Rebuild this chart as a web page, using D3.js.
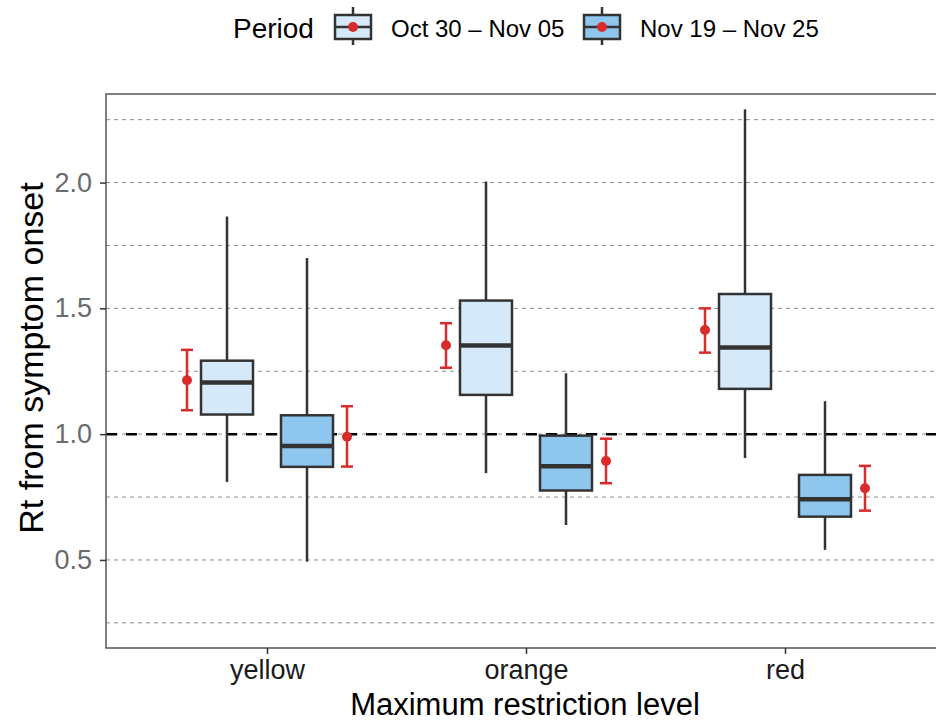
<!DOCTYPE html>
<html>
<head>
<meta charset="utf-8">
<script src="https://cdn.jsdelivr.net/npm/d3@7"></script>
<style>
  body { margin: 0; background: #fff; }
  svg { display: block; font-family: "Liberation Sans", Arial, sans-serif; }
</style>
</head>
<body>
<div id="chart"></div>
<script>
// ==== Data ====
const levels = ["yellow", "orange", "red"];
const periods = ["Oct 30 – Nov 05", "Nov 19 – Nov 25"];

// box stats per period, one value per level
const whiskerLow  = [[0.81, 0.845, 0.905], [0.493, 0.639, 0.540]];
const q1          = [[1.078, 1.156, 1.180], [0.870, 0.776, 0.672]];
const median      = [[1.205, 1.352, 1.344], [0.953, 0.872, 0.741]];
const q3          = [[1.292, 1.531, 1.557], [1.075, 0.994, 0.838]];
const whiskerHigh = [[1.865, 2.004, 2.291], [1.700, 1.242, 1.131]];

// point estimate with interval
const estimate = [[1.214, 1.353, 1.414], [0.990, 0.893, 0.785]];
const ciLow    = [[1.095, 1.264, 1.324], [0.871, 0.805, 0.696]];
const ciHigh   = [[1.335, 1.441, 1.500], [1.111, 0.982, 0.874]];

const yTicks = [0.5, 1.0, 1.5, 2.0];
const yGrid = [0.25, 0.5, 0.75, 1.0, 1.25, 1.5, 1.75, 2.0, 2.25];

const fills = ["#d5e9f8", "#8ec6ee"];
const ink = "#333333";
const red = "#d92b2b";

// ==== Layout ====
const W = 936, H = 723;
const panel = { left: 106, right: 946, top: 94, bottom: 648 };

const svg = d3.select("#chart").append("svg")
    .attr("width", W)
    .attr("height", H);

const x = d3.scalePoint().domain(levels).range([267, 785]);
const y = d3.scaleLinear().domain([0.150, 2.352]).range([panel.bottom, panel.top]);

const boxOffset = [-40, 40];
const barOffset = [-80, 80];
const boxW = 52;

// gridlines
svg.append("g")
    .selectAll("line")
    .data(yGrid)
    .enter()
    .append("line")
    .attr("x1", panel.left)
    .attr("x2", panel.right)
    .attr("y1", d => y(d))
    .attr("y2", d => y(d))
    .attr("stroke", "#8c8c8c")
    .attr("stroke-width", 1)
    .attr("stroke-dasharray", "4,4");

// reference line at 1
svg.append("line")
    .attr("x1", panel.left)
    .attr("x2", panel.right)
    .attr("y1", y(1))
    .attr("y2", y(1))
    .attr("stroke", "#000")
    .attr("stroke-width", 2.5)
    .attr("stroke-dasharray", "11,9");

// boxes
periods.forEach((p, pi) => {
    const g = svg.append("g");
    levels.forEach((lv, li) => {
        const cx = x(lv) + boxOffset[pi];
        g.append("line")
            .attr("x1", cx).attr("x2", cx)
            .attr("y1", y(whiskerHigh[pi][li]))
            .attr("y2", y(q3[pi][li]))
            .attr("stroke", ink).attr("stroke-width", 2.5);
        g.append("line")
            .attr("x1", cx).attr("x2", cx)
            .attr("y1", y(q1[pi][li]))
            .attr("y2", y(whiskerLow[pi][li]))
            .attr("stroke", ink).attr("stroke-width", 2.5);
        g.append("rect")
            .attr("x", cx - boxW / 2)
            .attr("y", y(q3[pi][li]))
            .attr("width", boxW)
            .attr("height", y(q1[pi][li]) - y(q3[pi][li]))
            .attr("fill", fills[pi])
            .attr("stroke", ink)
            .attr("stroke-width", 2.5);
        g.append("line")
            .attr("x1", cx - boxW / 2).attr("x2", cx + boxW / 2)
            .attr("y1", y(median[pi][li]))
            .attr("y2", y(median[pi][li]))
            .attr("stroke", ink).attr("stroke-width", 4.5);

        // interval + point
        const ex = x(lv) + barOffset[pi];
        g.append("line")
            .attr("x1", ex).attr("x2", ex)
            .attr("y1", y(ciLow[pi][li])).attr("y2", y(ciHigh[pi][li]))
            .attr("stroke", red).attr("stroke-width", 2.5);
        [ciLow[pi][li], ciHigh[pi][li]].forEach(v => {
            g.append("line")
                .attr("x1", ex - 6).attr("x2", ex + 6)
                .attr("y1", y(v)).attr("y2", y(v))
                .attr("stroke", red).attr("stroke-width", 2.5);
        });
        g.append("circle")
            .attr("cx", ex)
            .attr("cy", y(estimate[pi][li]))
            .attr("r", 5)
            .attr("fill", red);
    });
});

// panel border
svg.append("rect")
    .attr("x", panel.left)
    .attr("y", panel.top)
    .attr("width", panel.right - panel.left)
    .attr("height", panel.bottom - panel.top)
    .attr("fill", "none")
    .attr("stroke", "#555")
    .attr("stroke-width", 1.5);

// y axis
const yAxis = svg.append("g")
    .attr("transform", `translate(${panel.left},0)`)
    .call(d3.axisLeft(y).tickValues(yTicks).tickFormat(d3.format(".1f")).tickSize(6).tickPadding(8));
yAxis.select(".domain").remove();
yAxis.selectAll(".tick line").attr("stroke", ink).attr("stroke-width", 1.5);
yAxis.selectAll(".tick text")
    .attr("fill", "#6b6b6b")
    .style("font-size", "27px")
    .style("font-family", "Liberation Sans, Arial, sans-serif");

// x axis
const xAxis = svg.append("g")
    .attr("transform", `translate(0,${panel.bottom})`)
    .call(d3.axisBottom(x).tickSize(6).tickPadding(6));
xAxis.select(".domain").remove();
xAxis.selectAll(".tick line").attr("stroke", ink).attr("stroke-width", 1.5);
xAxis.selectAll(".tick text")
    .attr("fill", "#1a1a1a")
    .style("font-size", "27px")
    .style("font-family", "Liberation Sans, Arial, sans-serif");

// axis titles
svg.append("text")
    .attr("x", 525)
    .attr("y", 715)
    .attr("text-anchor", "middle")
    .style("font-size", "31px")
    .attr("fill", "#000")
    .text("Maximum restriction level");

svg.append("text")
    .attr("transform", "translate(43,358) rotate(-90)")
    .attr("text-anchor", "middle")
    .style("font-size", "34px")
    .attr("fill", "#000")
    .text("Rt from symptom onset");

// ==== Legend ====
const legend = svg.append("g");
legend.append("text")
    .attr("x", 233)
    .attr("y", 38)
    .style("font-size", "28px")
    .text("Period");

const keyX = [335, 584];
const labelX = [391, 640];
periods.forEach((p, pi) => {
    const kx = keyX[pi], cx = kx + 18;
    legend.append("line")
        .attr("x1", cx).attr("x2", cx).attr("y1", 7).attr("y2", 45)
        .attr("stroke", ink).attr("stroke-width", 2.5);
    legend.append("rect")
        .attr("x", kx).attr("y", 15).attr("width", 36).attr("height", 24)
        .attr("fill", fills[pi]).attr("stroke", ink).attr("stroke-width", 2.5);
    legend.append("line")
        .attr("x1", kx).attr("x2", kx + 36).attr("y1", 27).attr("y2", 27)
        .attr("stroke", ink).attr("stroke-width", 2.5);
    legend.append("circle")
        .attr("cx", cx).attr("cy", 27).attr("r", 5).attr("fill", red);
    legend.append("text")
        .attr("x", labelX[pi])
        .attr("y", 37)
        .style("font-size", "24px")
        .text(p);
});
</script>
</body>
</html>
